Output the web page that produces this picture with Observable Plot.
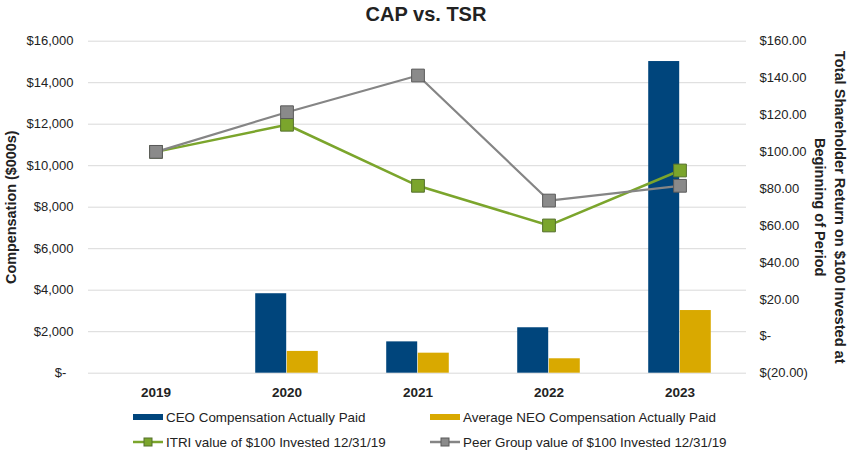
<!DOCTYPE html>
<html>
<head>
<meta charset="utf-8">
<script src="https://cdn.jsdelivr.net/npm/d3@7"></script>
<script src="https://cdn.jsdelivr.net/npm/@observablehq/plot@0.6"></script>
<style>
  body { margin: 0; background: #fff; font-family: "Liberation Sans", Arial, sans-serif; }
  #wrap { width: 852px; position: relative; }
  #title { height: 30px; line-height: 28px; text-align: center; font-size: 20px; font-weight: bold; color: #222; }
  #legend { position: relative; height: 45px; font-size: 13.4px; color: #222; }
  .item { position: absolute; display: flex; align-items: center; white-space: nowrap; }
  .item svg { margin-right: 3px; }
</style>
</head>
<body>
<div id="wrap">
  <div id="title">CAP vs. TSR</div>
  <div id="chart"></div>
  <div id="legend"></div>
</div>
<script>
const years = ["2019", "2020", "2021", "2022", "2023"];
const ceoCAP = [null, 3830, 1510, 2190, 15020];
const neoCAP = [null, 1050, 965, 695, 3020];
const itriTSR = [100, 114.7, 81.6, 60.1, 89.9];
const peerTSR = [100, 121.5, 141.4, 73.6, 81.6];
const leftTicks = [0, 2000, 4000, 6000, 8000, 10000, 12000, 14000, 16000];
const rightTicks = [-20, 0, 20, 40, 60, 80, 100, 120, 140, 160];

const seriesNames = {
  ceo: "CEO Compensation Actually Paid",
  neo: "Average NEO Compensation Actually Paid",
  itri: "ITRI value of $100 Invested 12/31/19",
  peer: "Peer Group value of $100 Invested 12/31/19"
};
const colors = { ceo: "#00457C", neo: "#D9A900", itri: "#7BA52C", peer: "#858585" };
const markerFill = { itri: "#7BA52C", peer: "#8a8a8a" };
const markerStroke = { itri: "#55702d", peer: "#5a5a5a" };

// secondary axis: right domain [-20,160] maps onto left domain [0,16000]
const leftDomain = [0, 16000];
const rightDomain = [-20, 160];
const toLeft = v => (v - rightDomain[0]) / (rightDomain[1] - rightDomain[0]) * (leftDomain[1] - leftDomain[0]) + leftDomain[0];
const toRight = v => (v - leftDomain[0]) / (leftDomain[1] - leftDomain[0]) * (rightDomain[1] - rightDomain[0]) + rightDomain[0];

const fmtLeft = d => d === 0 ? "$-\u2007" : "$" + d3.format(",")(d);
const fmtRight = d => {
  const r = Math.round(d * 100) / 100;
  if (r === 0) return "$-";
  if (r < 0) return "$(" + d3.format(".2f")(-r) + ")";
  return "$" + d3.format(".2f")(r);
};

const bars = [];
years.forEach((y, i) => {
  if (ceoCAP[i] != null) bars.push({ year: y, key: "ceo", value: ceoCAP[i] });
  if (neoCAP[i] != null) bars.push({ year: y, key: "neo", value: neoCAP[i] });
});
const itri = years.map((y, i) => ({ year: y, value: toLeft(itriTSR[i]) }));
const peer = years.map((y, i) => ({ year: y, value: toLeft(peerTSR[i]) }));

const width = 852, ml = 88, mr = 106, mt = 10.7, mb = 32.3, height = 375;
const bw = (width - ml - mr) / years.length;
const barW = bw * 0.24;
const half = bw / 2;

const font = "Liberation Sans, Arial, sans-serif";

const chart = Plot.plot({
  width, height,
  marginLeft: ml, marginRight: mr, marginTop: mt, marginBottom: mb,
  style: { fontFamily: font, fontSize: "13px", color: "#222", background: "#fff" },
  x: { type: "band", domain: years, padding: 0, label: null },
  y: { domain: leftDomain, label: null },
  marks: [
    Plot.gridY(leftTicks, { stroke: "#d9d9d9", strokeOpacity: 1, strokeWidth: 1 }),
    Plot.barY(bars.filter(d => d.key === "ceo"), { x: "year", y: "value", fill: colors.ceo, insetLeft: half - barW, insetRight: half }),
    Plot.barY(bars.filter(d => d.key === "neo"), { x: "year", y: "value", fill: colors.neo, insetLeft: half, insetRight: half - barW }),
    Plot.line(itri, { x: "year", y: "value", stroke: colors.itri, strokeWidth: 2.5 }),
    Plot.dot(itri, { x: "year", y: "value", symbol: "square", r: 7.2, fill: markerFill.itri, stroke: markerStroke.itri, strokeWidth: 1 }),
    Plot.line(peer, { x: "year", y: "value", stroke: colors.peer, strokeWidth: 2.2 }),
    Plot.dot(peer, { x: "year", y: "value", symbol: "square", r: 7.2, fill: markerFill.peer, stroke: markerStroke.peer, strokeWidth: 1 }),
    Plot.axisY(leftTicks, { anchor: "left", tickSize: 0, tickPadding: 15, tickFormat: fmtLeft, fontSize: 13, label: null }),
    Plot.axisY(rightTicks.map(toLeft), { anchor: "right", tickSize: 0, tickPadding: 13, tickFormat: d => fmtRight(toRight(d)), fontSize: 13, label: null }),
    Plot.axisX({ tickSize: 0, tickPadding: 14, fontWeight: "bold", fontSize: 13.5, label: null }),
    Plot.text(["Compensation ($000s)"], { frameAnchor: "left", dx: -77, rotate: -90, textAnchor: "middle", fontWeight: "bold", fontSize: 14.4, fill: "#222" }),
    Plot.text(["Total Shareholder Return on $100 Invested at\nBeginning of Period"], { frameAnchor: "right", dx: 85, rotate: 90, textAnchor: "middle", lineAnchor: "middle", fontWeight: "bold", fontSize: 14.6, lineHeight: 1.4, fill: "#222" })
  ]
});
document.getElementById("chart").appendChild(chart);

// legend
const legend = document.getElementById("legend");
const items = [
  { key: "ceo", type: "bar", x: 133, y: 12 },
  { key: "neo", type: "bar", x: 430, y: 12 },
  { key: "itri", type: "line", x: 133, y: 37 },
  { key: "peer", type: "line", x: 430, y: 37 }
];
items.forEach(it => {
  const div = document.createElement("div");
  div.className = "item";
  div.style.left = it.x + "px";
  div.style.top = (it.y - 8) + "px";
  div.style.height = "16px";
  let sw;
  if (it.type === "bar") {
    sw = `<svg width="30" height="16"><rect x="0" y="5" width="30" height="6" fill="${colors[it.key]}"/></svg>`;
  } else {
    sw = `<svg width="30" height="16"><line x1="0" x2="30" y1="8" y2="8" stroke="${colors[it.key]}" stroke-width="2.5"/><rect x="11" y="4" width="8" height="8" fill="${markerFill[it.key]}" stroke="${markerStroke[it.key]}" stroke-width="1"/></svg>`;
  }
  div.innerHTML = sw + `<span>${seriesNames[it.key]}</span>`;
  legend.appendChild(div);
});
</script>
</body>
</html>
